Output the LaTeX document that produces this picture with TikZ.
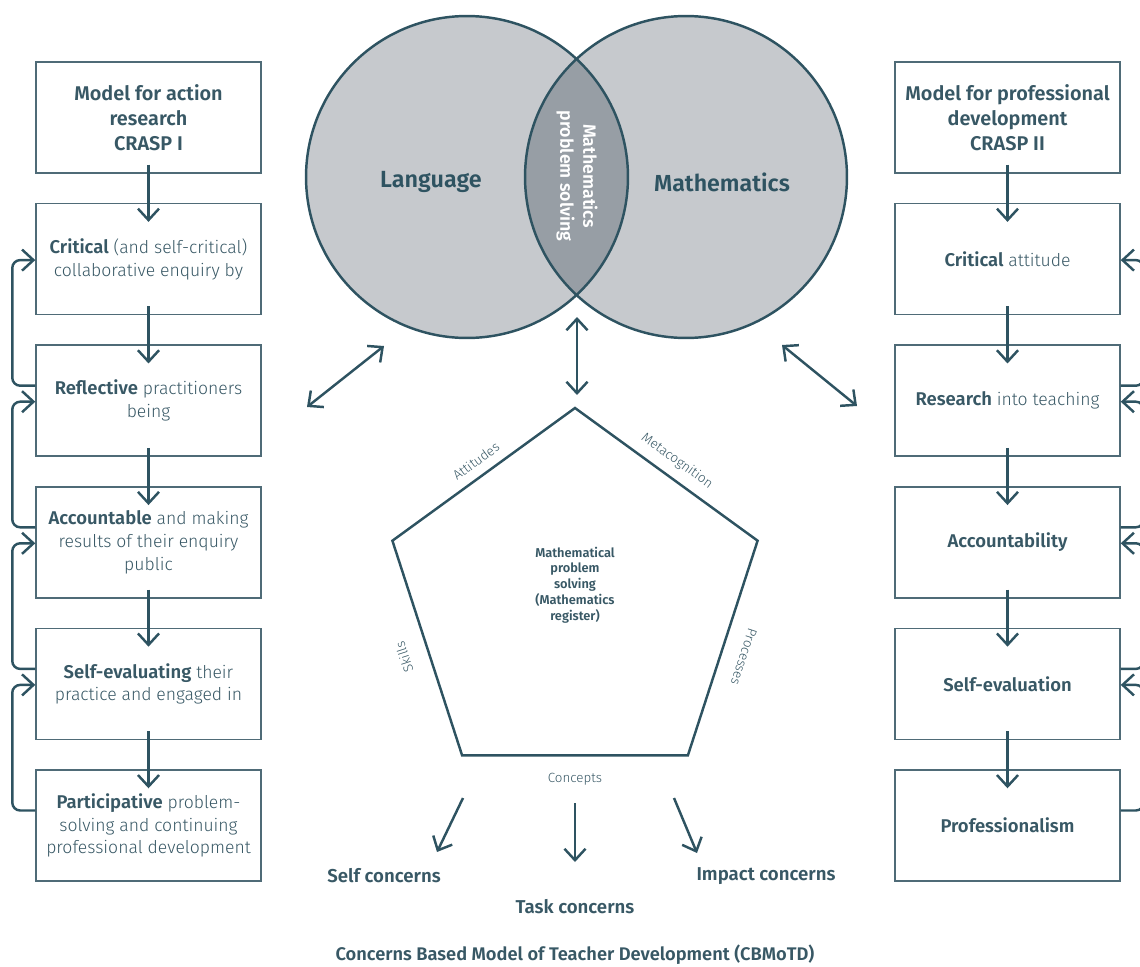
\documentclass[tikz,border=0pt]{standalone}
\usepackage{fontspec}
\setmainfont{Fira Sans}[UprightFont={* Light}, BoldFont={* SemiBold}]
\usetikzlibrary{arrows.meta,calc}
\definecolor{ink}{HTML}{2E5361}
\definecolor{txt}{HTML}{385865}
\definecolor{frame}{HTML}{4F6B77}
\definecolor{disc}{HTML}{C6C9CD}
\definecolor{lensfill}{HTML}{979EA5}
% emphasised key words inside the step boxes
\newcommand{\kw}[1]{{\fontsize{10.5}{13}\selectfont\bfseries #1}}
\begin{document}
\begin{tikzpicture}[x=0.02cm,y=-0.02cm,
  box/.style={draw=frame, line width=0.85pt, minimum width=4.5cm, minimum height=2.22cm,
    inner sep=0pt, align=center, text=txt, font=\fontsize{10}{13}\selectfont},
  headbox/.style={box, font=\fontsize{11.3}{14.2}\selectfont\bfseries},
  barb/.tip={Straight Barb[length=6.5pt,width=12pt]},
  arr/.style={draw=ink, line width=1.4pt, -barb},
  darr/.style={draw=ink, line width=1.4pt, barb-barb},
  fbloop/.style={arr, rounded corners=4.5pt},
  sidelabel/.style={text=txt, font=\fontsize{7.6}{9}\selectfont, inner sep=0pt},
  concern/.style={text=txt, font=\fontsize{10.6}{12}\selectfont\bfseries, inner sep=0pt},
]
\useasboundingbox (0,0) rectangle (1140,967);
\clip (0,0) rectangle (1140,967);

% ---- Venn diagram: Language / Mathematics ----
\fill[disc] (467,177) circle [radius=3.22cm];
\fill[disc] (686,177) circle [radius=3.22cm];
\begin{scope}
  \clip (467,177) circle [radius=3.22cm];
  \fill[lensfill] (686,177) circle [radius=3.22cm];
\end{scope}
\draw[ink, line width=1.4pt] (467,177) circle [radius=3.22cm];
\draw[ink, line width=1.4pt] (686,177) circle [radius=3.22cm];
\node[text=ink, font=\fontsize{13.3}{15}\selectfont\bfseries] (lang) at (431,182) {Language};
\node[text=ink, font=\fontsize{13.2}{15}\selectfont\bfseries] (math) at (722,182) {Mathematics};
\node[text=white, rotate=-90, align=center, font=\fontsize{10.1}{13}\selectfont\bfseries] (mps) at (577,176) {Mathematics\\problem solving};

% ---- left column: action research ----
\foreach \i/\t in {
  1/{\kw{Critical} (and self-critical)\\collaborative enquiry by},
  2/{\kw{Reflective} practitioners\\being},
  3/{\kw{Accountable} and making\\results of their enquiry\\public},
  4/{\kw{Self-evaluating} their\\practice and engaged in},
  5/{\kw{Participative} problem-\\solving and continuing\\professional development}}
  \node[box] (L\i) at (148.5,{117.5+141.6*\i}) {\t};
\node[headbox] (L0) at (148.5,117.5) {Model for action\\research\\CRASP I};

% ---- right column: professional development ----
\foreach \i/\t in {
  1/{\kw{Critical} attitude},
  2/{\kw{Research} into teaching},
  3/{\kw{Accountability}},
  4/{\kw{Self-evaluation}},
  5/{\kw{Professionalism}}}
  \node[box] (R\i) at (1007.5,{117.5+141.6*\i}) {\t};
\node[headbox] (R0) at (1007.5,117.5) {Model for professional\\development\\CRASP II};

% downward steps in both columns
\foreach \i [evaluate=\i as \j using int(\i+1)] in {0,...,4} {
  \draw[arr] ($(L\i.south)+(0,-9)$) -- ($(L\j.north)+(0,19)$);
  \draw[arr] ($(R\i.south)+(0,-9)$) -- ($(R\j.north)+(0,19)$);
}
% feedback loops back to the previous step
\foreach \i [evaluate=\i as \j using int(\i-1)] in {2,...,5} {
  \draw[fbloop] ($(L\i.west)+(0,-15)$) -- ++(-23,0) |- ($(L\j.west)+(0,1)$);
  \draw[fbloop] ($(R\i.east)+(0,-15)$) -- ++(23,0) |- ($(R\j.east)+(0,1)$);
}

% ---- links between the Venn diagram, the columns and the pentagon ----
\coordinate (la) at (307,407);
\coordinate (lb) at (384,346);
\coordinate (ca) at (577,317);
\coordinate (cb) at (577,395);
\coordinate (ra) at (782,345);
\coordinate (rb) at (857,406);
\draw[darr] (la) -- (lb);
\draw[darr] (ca) -- (cb);
\draw[darr] (ra) -- (rb);

% ---- pentagon: mathematical problem solving ----
\coordinate (p1) at (575,408);
\coordinate (p2) at (757.6,540.7);
\coordinate (p3) at (687.9,755.3);
\coordinate (p4) at (462.1,755.3);
\coordinate (p5) at (392.4,540.7);
\draw[ink, line width=1.4pt, line join=miter] (p1) -- (p2) -- (p3) -- (p4) -- (p5) -- cycle;
\node[text=txt, align=center, font=\fontsize{7.3}{9}\selectfont\bfseries] (core) at (575,585)
  {Mathematical\\problem\\solving\\(Mathematics\\register)};
\node[sidelabel, rotate=36] (att) at (476,461) {Attitudes};
\node[sidelabel, rotate=-36] (meta) at (677,461) {Metacognition};
\node[sidelabel, rotate=108] (skl) at (404,657) {Skills};
\node[sidelabel, rotate=-108] (proc) at (744,657) {Processes};
\node[sidelabel] (conc) at (575,779) {Concepts};

% ---- concerns ----
\coordinate (s1) at (463,798);
\coordinate (s2) at (437,852);
\coordinate (t1) at (575,803);
\coordinate (t2) at (575,862);
\coordinate (i1) at (674,798);
\coordinate (i2) at (697,853);
\draw[arr] (s1) -- (s2);
\draw[arr] (t1) -- (t2);
\draw[arr] (i1) -- (i2);
\node[concern] (selfc) at (384,876) {Self concerns};
\node[concern] (taskc) at (575,907) {Task concerns};
\node[concern] (impc) at (766,876) {Impact concerns};
\node[concern, font=\fontsize{10.4}{12}\selectfont\bfseries] (cbm) at (575,955) {Concerns Based Model of Teacher Development (CBMoTD)};
\end{tikzpicture}
\end{document}
